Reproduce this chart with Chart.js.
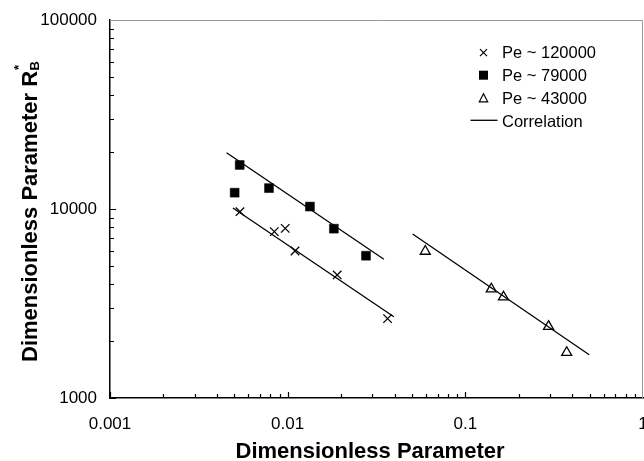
<!DOCTYPE html>
<html>
<head>
<meta charset="utf-8">
<script src="https://cdn.jsdelivr.net/npm/chart.js@4"></script>
<style>
    html, body { margin: 0; background: #fff; overflow: hidden; }
    #wrap { width: 644px; height: 461px; }
</style>
</head>
<body>
<div id="wrap"><canvas id="chart"></canvas></div>
<script>
// values
const pe120X = [0.00539, 0.00841, 0.00969, 0.0110, 0.0190, 0.0365];
const pe120Y = [9680, 7590, 7900, 6000, 4480, 2630];
const pe79X = [0.00503, 0.00537, 0.00785, 0.01335, 0.0182, 0.0276];
const pe79Y = [12200, 17100, 12900, 10300, 7870, 5660];
const pe43X = [0.0595, 0.140, 0.164, 0.294, 0.372];
const pe43Y = [5970, 3770, 3420, 2390, 1740];

// correlation segments (end points)
const corr120X = [0.00492, 0.0396];
const corr120Y = [10120, 2690];
const corr79X = [0.00453, 0.0348];
const corr79Y = [19860, 5420];
const corr43X = [0.0505, 0.498];
const corr43Y = [7375, 1695];

const seriesLabels = ["Pe ~ 120000", "Pe ~ 79000", "Pe ~ 43000", "Correlation"];
const xTickValues = [0.001, 0.01, 0.1, 1];
const xTickLabels = ["0.001", "0.01", "0.1", "1"];
const yTickValues = [1000, 10000, 100000];
const yTickLabels = ["1000", "10000", "100000"];
const xTitle = "Dimensionless Parameter";
const yTitle = "Dimensionless Parameter R";
const yTitleSub = "B";
const yTitleSup = "*";

const family = "'Liberation Sans', Arial, sans-serif";

function pts(xs, ys) {
    return xs.map((x, i) => ({ x: x, y: ys[i] }));
}

function lineSet(xs, ys) {
    return {
        label: seriesLabels[3],
        data: pts(xs, ys),
        showLine: true,
        borderColor: "#000",
        borderWidth: 1.3,
        pointRadius: 0,
        fill: false
    };
}

// gray top/right frame, small inside ticks, titles and legend
const framePlugin = {
    id: "frame",
    afterDraw(chart) {
        const { ctx, chartArea: a, scales } = chart;
        ctx.save();
        ctx.strokeStyle = "#9a9a9a";
        ctx.lineWidth = 1;
        ctx.beginPath();
        ctx.moveTo(a.left, a.top + 0.5);
        ctx.lineTo(a.right - 0.5, a.top + 0.5);
        ctx.lineTo(a.right - 0.5, a.bottom);
        ctx.stroke();

        ctx.strokeStyle = "#000";
        ctx.lineWidth = 1.2;
        ctx.beginPath();
        for (let k = -3; k < 0; k++) {
            for (let m = 1; m <= 9; m++) {
                const px = Math.round(scales.x.getPixelForValue(m * Math.pow(10, k))) + 0.5;
                const len = m === 1 ? 6 : 4;
                ctx.moveTo(px, a.bottom);
                ctx.lineTo(px, a.bottom - len);
            }
        }
        for (let k = 3; k < 5; k++) {
            for (let m = 1; m <= 9; m++) {
                const py = Math.round(scales.y.getPixelForValue(m * Math.pow(10, k))) + 0.5;
                const len = m === 1 ? 6 : 4;
                ctx.moveTo(a.left, py);
                ctx.lineTo(a.left + len, py);
            }
        }
        ctx.stroke();

        ctx.fillStyle = "#000";
        // x title
        ctx.font = "bold 22px " + family;
        ctx.textAlign = "center";
        ctx.textBaseline = "alphabetic";
        ctx.fillText(xTitle, 370, 458);

        // y title with subscript and superscript
        ctx.save();
        ctx.translate(37, 362);
        ctx.rotate(-Math.PI / 2);
        ctx.textAlign = "left";
        ctx.font = "bold 22px " + family;
        ctx.fillText(yTitle, 0, 0);
        const w = ctx.measureText(yTitle).width;
        ctx.font = "bold 13px " + family;
        ctx.fillText(yTitleSub, w + 0.5, 2);
        ctx.fillText(yTitleSup, w + 1, -14);
        ctx.restore();

        // legend
        const mx = 483.5, tx = 502;
        const rows = [52.7, 75.2, 98.3, 120.3];
        ctx.lineWidth = 1.2;
        ctx.beginPath();
        ctx.moveTo(mx - 3.5, rows[0] - 3.5); ctx.lineTo(mx + 3.5, rows[0] + 3.5);
        ctx.moveTo(mx + 3.5, rows[0] - 3.5); ctx.lineTo(mx - 3.5, rows[0] + 3.5);
        ctx.stroke();
        ctx.fillRect(mx - 4.5, rows[1] - 4.5, 9, 9);
        ctx.beginPath();
        ctx.moveTo(mx, rows[2] - 4.5);
        ctx.lineTo(mx + 4.2, rows[2] + 3.5);
        ctx.lineTo(mx - 4.2, rows[2] + 3.5);
        ctx.closePath();
        ctx.stroke();
        ctx.lineWidth = 1.3;
        ctx.beginPath();
        ctx.moveTo(470.5, rows[3]); ctx.lineTo(497.5, rows[3]);
        ctx.stroke();

        ctx.font = "16.5px " + family;
        ctx.textAlign = "left";
        const base = [58.3, 80.8, 104, 126.5];
        seriesLabels.forEach((t, i) => ctx.fillText(t, tx, base[i]));
        ctx.restore();
    }
};

const config = {
    type: "scatter",
    data: {
        datasets: [
            {
                label: seriesLabels[0],
                data: pts(pe120X, pe120Y),
                pointStyle: "crossRot",
                pointRadius: 6,
                borderColor: "#000",
                borderWidth: 1.3
            },
            {
                label: seriesLabels[1],
                data: pts(pe79X, pe79Y),
                pointStyle: "rect",
                pointRadius: 6.3,
                backgroundColor: "#000",
                borderColor: "#000",
                borderWidth: 0.5
            },
            {
                label: seriesLabels[2],
                data: pts(pe43X, pe43Y),
                pointStyle: "triangle",
                pointRadius: 5.8,
                backgroundColor: "rgba(0,0,0,0)",
                borderColor: "#000",
                borderWidth: 1.3
            },
            lineSet(corr120X, corr120Y),
            lineSet(corr79X, corr79Y),
            lineSet(corr43X, corr43Y)
        ]
    },
    options: {
        responsive: true,
        maintainAspectRatio: false,
        animation: false,
        layout: {
            autoPadding: false,
            padding: { left: 0, right: 1, top: 20, bottom: 0 }
        },
        plugins: {
            legend: { display: false },
            tooltip: { enabled: false }
        },
        scales: {
            x: {
                type: "logarithmic",
                min: 0.001,
                max: 1,
                grid: { display: false, drawTicks: false },
                border: { display: true, color: "#000", width: 1.5 },
                ticks: {
                    autoSkip: false,
                    maxRotation: 0,
                    padding: 16,
                    color: "#000",
                    font: { family: family, size: 17 },
                    callback: (v, i) => xTickLabels[i]
                },
                afterBuildTicks: (s) => { s.ticks = xTickValues.map(v => ({ value: v })); },
                afterFit: (s) => { s.height = 63; s.paddingLeft = 0; s.paddingRight = 0; }
            },
            y: {
                type: "logarithmic",
                min: 1000,
                max: 100000,
                grid: { display: false, drawTicks: false },
                border: { display: true, color: "#000", width: 1.5 },
                ticks: {
                    autoSkip: false,
                    padding: 13,
                    color: "#000",
                    font: { family: family, size: 17 },
                    callback: (v, i) => yTickLabels[i]
                },
                afterBuildTicks: (s) => { s.ticks = yTickValues.map(v => ({ value: v })); },
                afterFit: (s) => { s.width = 110; s.paddingTop = 0; s.paddingBottom = 0; }
            }
        }
    },
    plugins: [framePlugin]
};

const chartLine = new Chart(document.getElementById("chart"), config);
</script>
</body>
</html>
